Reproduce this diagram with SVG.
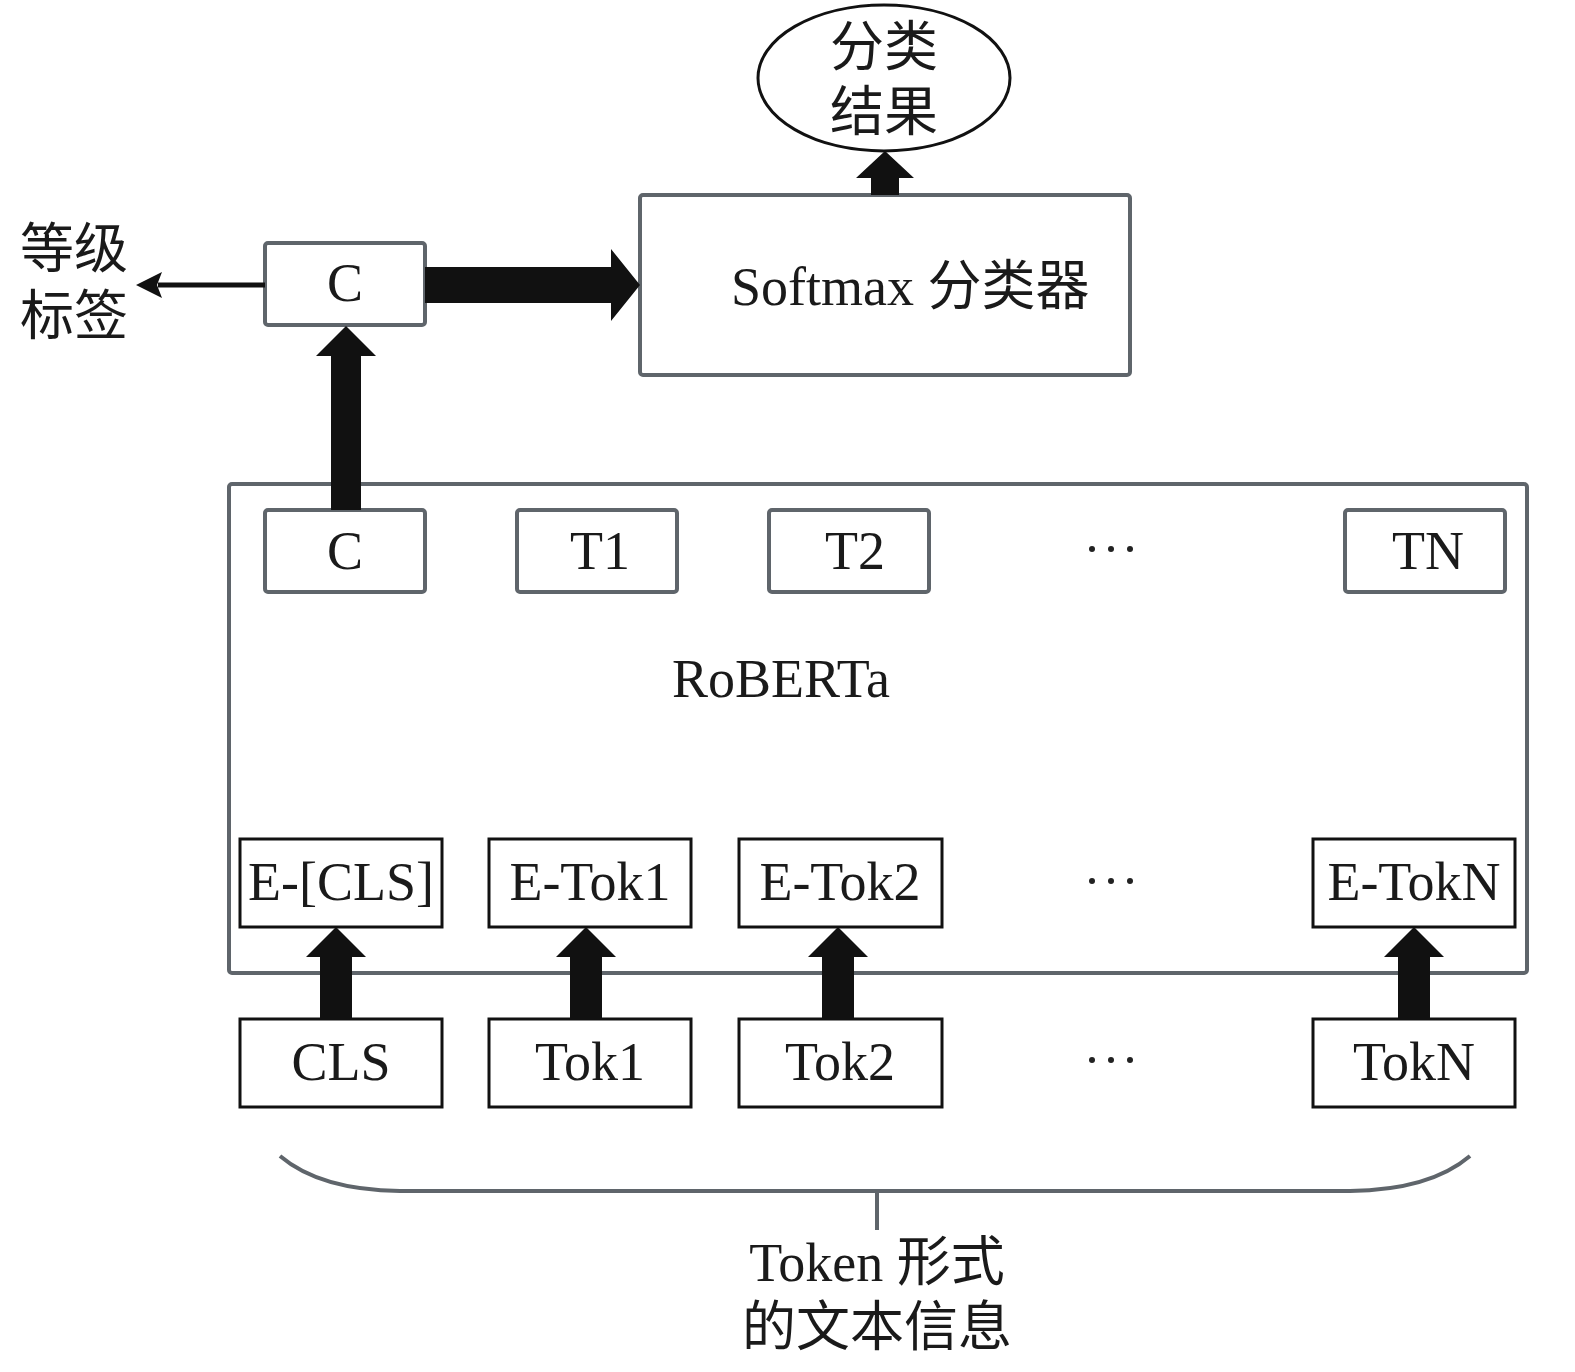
<svg xmlns="http://www.w3.org/2000/svg" width="1575" height="1372" viewBox="0 0 1575 1372">
<style>
  .t { font-family: "Liberation Serif", "Noto Sans CJK SC", serif; font-size: 54px; fill: #1a1a1a; }
  .c { text-anchor: middle; }
  .gbox { fill: #fff; stroke: #5f656b; stroke-width: 4; }
  .bbox { fill: #fff; stroke: #111; stroke-width: 3; }
  .arr { fill: #111; }
  .dot { fill: #222; }
</style>
<rect width="1575" height="1372" fill="#fff"/>

<g id="roberta">
  <rect class="gbox" x="229" y="484" width="1298" height="489" rx="3"/>
  <text class="t" x="672" y="697">RoBERTa</text>
</g>

<g id="softmax">
  <rect class="gbox" x="640" y="195" width="490" height="180" rx="3"/>
  <text class="t" x="731" y="305">Softmax 分类器</text>
</g>

<g id="result">
  <ellipse cx="884" cy="78" rx="126" ry="73" fill="#fff" stroke="#111" stroke-width="3"/>
  <text class="t c" x="884" y="66">分类</text>
  <text class="t c" x="884" y="131">结果</text>
</g>

<g id="label">
  <text class="t" x="20" y="268">等级</text>
  <text class="t" x="20" y="335">标签</text>
</g>

<g id="c-top">
  <rect class="gbox" x="265" y="243" width="160" height="82" rx="3"/>
  <text class="t c" x="345" y="301">C</text>
</g>

<g id="c-out">
  <rect class="gbox" x="265" y="510" width="160" height="82" rx="3"/>
  <text class="t c" x="345" y="569">C</text>
</g>
<g id="t1">
  <rect class="gbox" x="517" y="510" width="160" height="82" rx="3"/>
  <text class="t c" x="600" y="569">T1</text>
</g>
<g id="t2">
  <rect class="gbox" x="769" y="510" width="160" height="82" rx="3"/>
  <text class="t c" x="855" y="569">T2</text>
</g>
<g id="dots1">
  <circle class="dot" cx="1092" cy="549" r="3"/>
  <circle class="dot" cx="1111" cy="549" r="3"/>
  <circle class="dot" cx="1130" cy="549" r="3"/>
</g>
<g id="tn">
  <rect class="gbox" x="1345" y="510" width="160" height="82" rx="3"/>
  <text class="t c" x="1428" y="569">TN</text>
</g>

<g id="e-cls">
  <rect class="bbox" x="240" y="839" width="202" height="88"/>
  <text class="t c" x="341" y="900">E-[CLS]</text>
</g>
<g id="e-tok1">
  <rect class="bbox" x="489" y="839" width="202" height="88"/>
  <text class="t c" x="590" y="900">E-Tok1</text>
</g>
<g id="e-tok2">
  <rect class="bbox" x="739" y="839" width="203" height="88"/>
  <text class="t c" x="840" y="900">E-Tok2</text>
</g>
<g id="dots2">
  <circle class="dot" cx="1092" cy="881" r="3"/>
  <circle class="dot" cx="1111" cy="881" r="3"/>
  <circle class="dot" cx="1130" cy="881" r="3"/>
</g>
<g id="e-tokn">
  <rect class="bbox" x="1313" y="839" width="202" height="88"/>
  <text class="t c" x="1414" y="900">E-TokN</text>
</g>

<g id="cls">
  <rect class="bbox" x="240" y="1019" width="202" height="88"/>
  <text class="t c" x="341" y="1080">CLS</text>
</g>
<g id="tok1">
  <rect class="bbox" x="489" y="1019" width="202" height="88"/>
  <text class="t c" x="590" y="1080">Tok1</text>
</g>
<g id="tok2">
  <rect class="bbox" x="739" y="1019" width="203" height="88"/>
  <text class="t c" x="840" y="1080">Tok2</text>
</g>
<g id="dots3">
  <circle class="dot" cx="1092" cy="1060" r="3"/>
  <circle class="dot" cx="1111" cy="1060" r="3"/>
  <circle class="dot" cx="1130" cy="1060" r="3"/>
</g>
<g id="tokn">
  <rect class="bbox" x="1313" y="1019" width="202" height="88"/>
  <text class="t c" x="1414" y="1080">TokN</text>
</g>

<g id="brace">
  <path d="M280,1156 Q320,1190 400,1191 L1350,1191 Q1430,1190 1470,1156" fill="none" stroke="#5f656b" stroke-width="4"/>
  <line x1="877" y1="1191" x2="877" y2="1230" stroke="#5f656b" stroke-width="4"/>
  <text class="t c" x="877" y="1281">Token 形式</text>
  <text class="t c" x="877" y="1346">的文本信息</text>
</g>

<g id="connectors">
  <!-- softmax to result -->
  <polygon class="arr" points="871,195 871,178 856,178 885,151 914,178 899,178 899,195"/>
  <!-- C top to softmax -->
  <polygon class="arr" points="425,267 611,267 611,249 640,285 611,321 611,303 425,303"/>
  <!-- C top to label -->
  <line x1="265" y1="285" x2="158" y2="285" stroke="#111" stroke-width="5"/>
  <polygon class="arr" points="136,285 162,272 157,285 162,298"/>
  <!-- C out to C top -->
  <polygon class="arr" points="331,510 331,356 316,356 346,326 376,356 361,356 361,510"/>
  <!-- tokens to embeddings -->
  <polygon class="arr" points="320,1019 320,957 306,957 336,927 366,957 352,957 352,1019"/>
  <polygon class="arr" points="570,1019 570,957 556,957 586,927 616,957 602,957 602,1019"/>
  <polygon class="arr" points="822,1019 822,957 808,957 838,927 868,957 854,957 854,1019"/>
  <polygon class="arr" points="1398,1019 1398,957 1384,957 1414,927 1444,957 1430,957 1430,1019"/>
</g>
</svg>
